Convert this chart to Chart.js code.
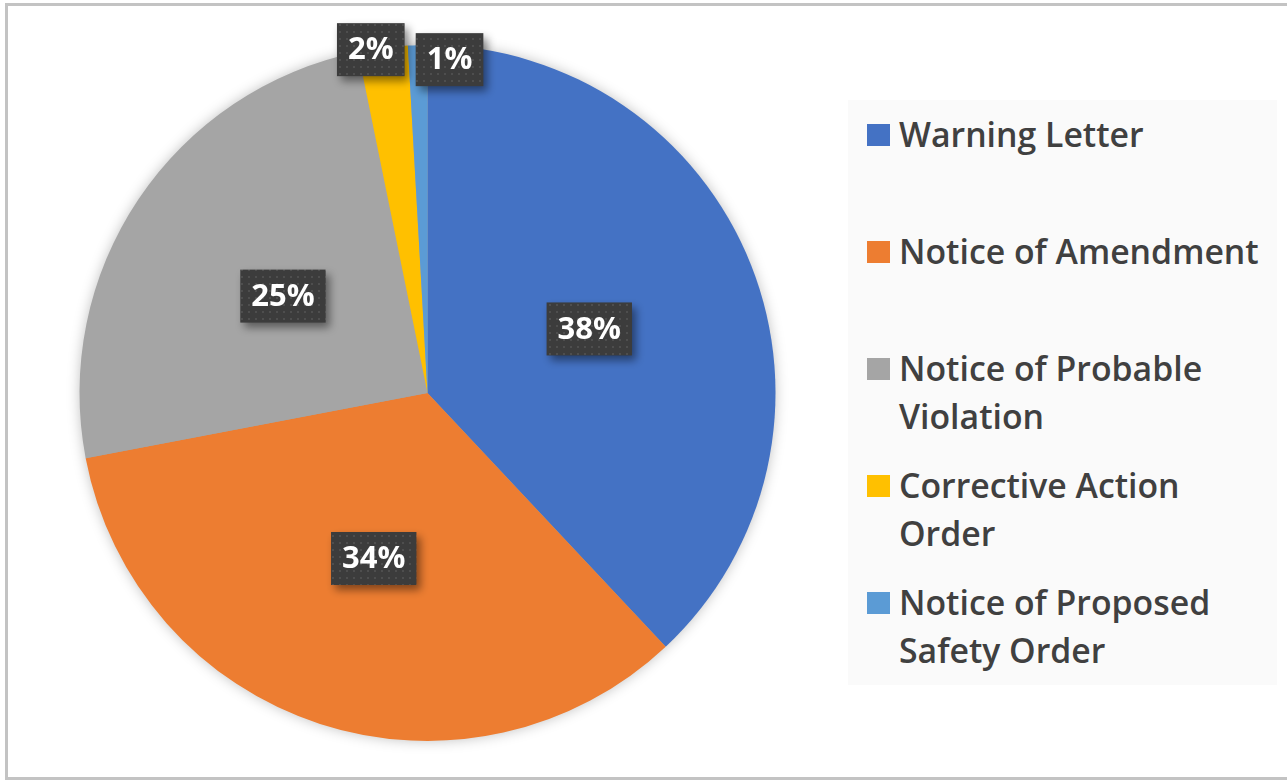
<!DOCTYPE html>
<html>
<head>
<meta charset="utf-8">
<script src="https://cdn.jsdelivr.net/npm/chart.js@4.4.1/dist/chart.umd.min.js"></script>
<style>
  html, body { margin: 0; padding: 0; background: #ffffff; }
  body { width: 1287px; height: 780px; position: relative; overflow: hidden; font-family: 'Open Sans', sans-serif; }
  #frame { position: absolute; left: 5px; top: 3px; width: 1300px; height: 777px; box-sizing: border-box; border: 3px solid #c3c3c3; }
  #wrap { position: absolute; left: 0; top: 0; width: 1287px; height: 780px; }
  #legend { position: absolute; left: 848px; top: 100px; width: 429px; height: 585px; background: #fafafa; }
  .item { position: relative; height: 117px; box-sizing: border-box; padding-top: 10px; padding-left: 51px; }
  .sw { position: absolute; left: 19px; top: 24px; width: 23px; height: 22px; }
  .txt { font-family: 'Open Sans', sans-serif; font-weight: 600; font-size: 33.8px; line-height: 48px; color: #404040; white-space: nowrap; }
</style>
</head>
<body>
<div id="frame"></div>
<div id="wrap"><canvas id="c"></canvas></div>
<div id="legend"></div>
<script>
const categories = ['Warning Letter', 'Notice of Amendment', 'Notice of Probable Violation', 'Corrective Action Order', 'Notice of Proposed Safety Order'];
const values = [38, 34, 24.8, 2.3, 0.9];
const legendLines = [['Warning Letter'], ['Notice of Amendment'], ['Notice of Probable', 'Violation'], ['Corrective Action', 'Order'], ['Notice of Proposed', 'Safety Order']];
const colors = ['#4472C4', '#ED7D31', '#A5A5A5', '#FFC000', '#5B9BD5'];
// label placement: fraction of radius and angular shift (degrees) from slice middle
const labelRadius = [0.5, 0.5, 0.5, 1.0, 0.96];
const labelShiftDeg = [0, 0, 0, -2.0, 5.4];

// legend
const lg = document.getElementById('legend');
categories.forEach((c, i) => {
  const it = document.createElement('div');
  it.className = 'item';
  const sw = document.createElement('div');
  sw.className = 'sw';
  sw.style.background = colors[i];
  it.appendChild(sw);
  legendLines[i].forEach(l => {
    const t = document.createElement('div');
    t.className = 'txt';
    t.textContent = l;
    it.appendChild(t);
  });
  lg.appendChild(it);
});

// dotted pattern for label boxes
const pc = document.createElement('canvas');
pc.width = 7; pc.height = 7;
const pctx = pc.getContext('2d');
pctx.fillStyle = '#3c3c3c';
pctx.fillRect(0, 0, 7, 7);
pctx.fillStyle = '#4e4e4e';
pctx.fillRect(3, 3, 2, 2);

const shadowPlugin = {
  id: 'pieShadow',
  beforeDatasetsDraw(chart) {
    const arc = chart.getDatasetMeta(0).data[0];
    if (!arc) return;
    const p = arc.getProps(['x', 'y', 'outerRadius'], true);
    const ctx = chart.ctx;
    ctx.save();
    ctx.shadowColor = 'rgba(0,0,0,0.28)';
    ctx.shadowBlur = 14;
    ctx.fillStyle = '#a5a5a5';
    ctx.beginPath();
    ctx.arc(p.x, p.y, p.outerRadius - 1, 0, Math.PI * 2);
    ctx.fill();
    ctx.restore();
  }
};

const labelPlugin = {
  id: 'boxLabels',
  afterDatasetsDraw(chart) {
    const ctx = chart.ctx;
    const meta = chart.getDatasetMeta(0);
    const total = values.reduce((a, b) => a + b, 0);
    const pattern = ctx.createPattern(pc, 'repeat');
    meta.data.forEach((arc, i) => {
      const p = arc.getProps(['x', 'y', 'startAngle', 'endAngle', 'outerRadius'], true);
      const mid = (p.startAngle + p.endAngle) / 2 + labelShiftDeg[i] * Math.PI / 180;
      const d = p.outerRadius * labelRadius[i];
      const cx = p.x + Math.cos(mid) * d;
      const cy = p.y + Math.sin(mid) * d;
      const txt = Math.round(values[i] / total * 100) + '%';
      ctx.save();
      ctx.font = "bold 31px 'Open Sans', sans-serif";
      const w = ctx.measureText(txt).width + 22;
      const h = 53;
      ctx.shadowColor = 'rgba(0,0,0,0.45)';
      ctx.shadowBlur = 8;
      ctx.shadowOffsetX = 4;
      ctx.shadowOffsetY = 5;
      ctx.fillStyle = pattern;
      ctx.fillRect(cx - w / 2, cy - h / 2, w, h);
      ctx.shadowColor = 'transparent';
      ctx.fillStyle = '#ffffff';
      ctx.textAlign = 'center';
      ctx.textBaseline = 'middle';
      ctx.fillText(txt, cx, cy + 1);
      ctx.restore();
    });
  }
};

new Chart(document.getElementById('c'), {
  type: 'pie',
  data: {
    labels: categories,
    datasets: [{ data: values, backgroundColor: colors, borderWidth: 0 }]
  },
  options: {
    responsive: true,
    maintainAspectRatio: false,
    animation: false,
    layout: { padding: { left: 79, top: 45, right: 511, bottom: 39 } },
    plugins: { legend: { display: false }, tooltip: { enabled: false } }
  },
  plugins: [shadowPlugin, labelPlugin]
});
</script>
</body>
</html>
